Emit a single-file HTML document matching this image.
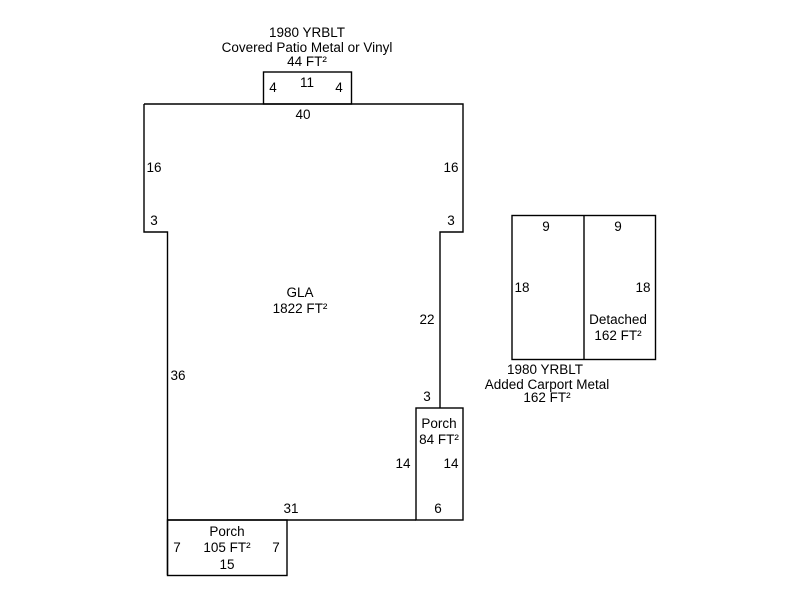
<!DOCTYPE html>
<html><head><style>html,body{margin:0;padding:0;background:#fff}svg{display:block}text{font-family:"Liberation Sans",Arial,sans-serif;font-size:13.5px;fill:#000;text-anchor:middle}</style></head>
<body><svg width="800" height="600" viewBox="0 0 800 600">
<g fill="none" stroke="#000" stroke-width="1.4">
<path d="M144,104 H463 V232 H440 V408 M144,104 V232 H167.5 V575"/>
<rect x="263.5" y="72" width="88" height="32"/>
<rect x="416" y="408" width="47" height="112"/>
<path d="M167.5,520 H416"/>
<rect x="167.5" y="520" width="119.5" height="55.5"/>
<rect x="512" y="215.5" width="143.5" height="144"/>
<path d="M584,215.5 V359.5"/>
</g>
<text x="307" y="37">1980 YRBLT</text>
<text x="307" y="52">Covered Patio Metal or Vinyl</text>
<text x="307" y="66">44 FT²</text>
<text x="273" y="92">4</text><text x="307" y="87">11</text><text x="339" y="92">4</text>
<text x="303" y="119">40</text>
<text x="154" y="172">16</text><text x="451" y="172">16</text>
<text x="154" y="225">3</text><text x="451" y="225">3</text>
<text x="300" y="297">GLA</text><text x="300" y="313">1822 FT²</text>
<text x="427" y="324">22</text>
<text x="178" y="380">36</text>
<text x="427" y="401">3</text>
<text x="439" y="428">Porch</text><text x="439" y="444">84 FT²</text>
<text x="403" y="468">14</text><text x="451" y="468">14</text>
<text x="291" y="513">31</text><text x="438" y="513">6</text>
<text x="227" y="536">Porch</text>
<text x="177" y="552">7</text><text x="227" y="552">105 FT²</text><text x="276" y="552">7</text>
<text x="227" y="569">15</text>
<text x="546" y="231">9</text><text x="618" y="231">9</text>
<text x="522" y="292">18</text><text x="643" y="292">18</text>
<text x="618" y="324">Detached</text><text x="618" y="340">162 FT²</text>
<text x="545" y="374">1980 YRBLT</text>
<text x="547" y="389">Added Carport Metal</text>
<text x="547" y="402">162 FT²</text>
</svg></body></html>
